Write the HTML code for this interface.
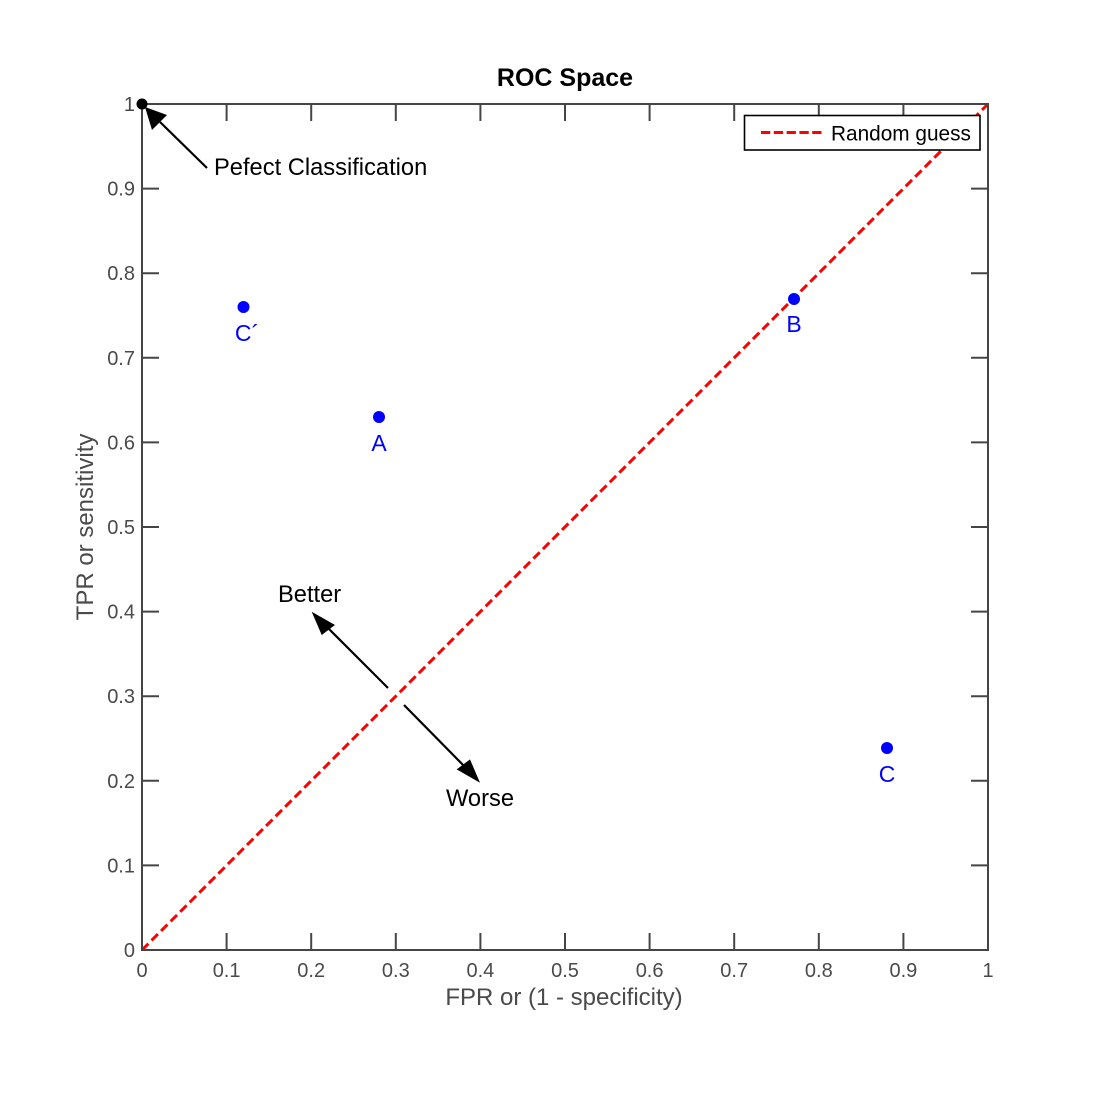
<!DOCTYPE html>
<html>
<head>
<meta charset="utf-8">
<style>
html,body{margin:0;padding:0;background:#fff;}
svg{display:block;}
text{font-family:"Liberation Sans",Arial,sans-serif;}
</style>
</head>
<body>
<svg width="1093" height="1094" viewBox="0 0 1093 1094" xmlns="http://www.w3.org/2000/svg">
<rect x="0" y="0" width="1093" height="1094" fill="#fff"/>

<!-- Random guess line -->
<line x1="142" y1="950" x2="988" y2="104" stroke="#ff0000" stroke-width="3" stroke-dasharray="9 4.5"/>

<!-- axes box -->
<rect x="142" y="104" width="846" height="846" fill="none" stroke="#454545" stroke-width="2"/>

<!-- ticks -->
<g stroke="#454545" stroke-width="2">
  <line x1="226.6" y1="950" x2="226.6" y2="933"/><line x1="226.6" y1="104" x2="226.6" y2="121"/>
  <line x1="311.2" y1="950" x2="311.2" y2="933"/><line x1="311.2" y1="104" x2="311.2" y2="121"/>
  <line x1="395.8" y1="950" x2="395.8" y2="933"/><line x1="395.8" y1="104" x2="395.8" y2="121"/>
  <line x1="480.4" y1="950" x2="480.4" y2="933"/><line x1="480.4" y1="104" x2="480.4" y2="121"/>
  <line x1="565" y1="950" x2="565" y2="933"/><line x1="565" y1="104" x2="565" y2="121"/>
  <line x1="649.6" y1="950" x2="649.6" y2="933"/><line x1="649.6" y1="104" x2="649.6" y2="121"/>
  <line x1="734.2" y1="950" x2="734.2" y2="933"/><line x1="734.2" y1="104" x2="734.2" y2="121"/>
  <line x1="818.8" y1="950" x2="818.8" y2="933"/><line x1="818.8" y1="104" x2="818.8" y2="121"/>
  <line x1="903.4" y1="950" x2="903.4" y2="933"/><line x1="903.4" y1="104" x2="903.4" y2="121"/>
  <line x1="142" y1="865.4" x2="159" y2="865.4"/><line x1="988" y1="865.4" x2="971" y2="865.4"/>
  <line x1="142" y1="780.8" x2="159" y2="780.8"/><line x1="988" y1="780.8" x2="971" y2="780.8"/>
  <line x1="142" y1="696.2" x2="159" y2="696.2"/><line x1="988" y1="696.2" x2="971" y2="696.2"/>
  <line x1="142" y1="611.6" x2="159" y2="611.6"/><line x1="988" y1="611.6" x2="971" y2="611.6"/>
  <line x1="142" y1="527" x2="159" y2="527"/><line x1="988" y1="527" x2="971" y2="527"/>
  <line x1="142" y1="442.4" x2="159" y2="442.4"/><line x1="988" y1="442.4" x2="971" y2="442.4"/>
  <line x1="142" y1="357.8" x2="159" y2="357.8"/><line x1="988" y1="357.8" x2="971" y2="357.8"/>
  <line x1="142" y1="273.2" x2="159" y2="273.2"/><line x1="988" y1="273.2" x2="971" y2="273.2"/>
  <line x1="142" y1="188.6" x2="159" y2="188.6"/><line x1="988" y1="188.6" x2="971" y2="188.6"/>
</g>

<!-- x tick labels -->
<g font-size="20" fill="#4a4a4a" text-anchor="middle">
  <text x="142" y="977">0</text>
  <text x="226.6" y="977">0.1</text>
  <text x="311.2" y="977">0.2</text>
  <text x="395.8" y="977">0.3</text>
  <text x="480.4" y="977">0.4</text>
  <text x="565" y="977">0.5</text>
  <text x="649.6" y="977">0.6</text>
  <text x="734.2" y="977">0.7</text>
  <text x="818.8" y="977">0.8</text>
  <text x="903.4" y="977">0.9</text>
  <text x="988" y="977">1</text>
</g>
<!-- y tick labels -->
<g font-size="20" fill="#4a4a4a" text-anchor="end">
  <text x="135" y="957">0</text>
  <text x="135" y="872.4">0.1</text>
  <text x="135" y="787.8">0.2</text>
  <text x="135" y="703.2">0.3</text>
  <text x="135" y="618.6">0.4</text>
  <text x="135" y="534">0.5</text>
  <text x="135" y="449.4">0.6</text>
  <text x="135" y="364.8">0.7</text>
  <text x="135" y="280.2">0.8</text>
  <text x="135" y="195.6">0.9</text>
  <text x="135" y="111">1</text>
</g>

<!-- axis labels -->
<text x="564" y="1005" font-size="24" fill="#4a4a4a" text-anchor="middle">FPR or (1 - specificity)</text>
<text x="93" y="527" font-size="24" fill="#4a4a4a" text-anchor="middle" transform="rotate(-90 93 527)">TPR or sensitivity</text>

<!-- title -->
<text x="565" y="86" font-size="25" font-weight="bold" fill="#000" text-anchor="middle">ROC Space</text>

<!-- data points -->
<g fill="#0000ff">
  <circle cx="243.5" cy="307" r="6"/>
  <circle cx="379" cy="417" r="6"/>
  <circle cx="794" cy="299" r="6"/>
  <circle cx="887" cy="748" r="6"/>
</g>
<g font-size="23" fill="#0000ff" text-anchor="middle">
  <text x="247" y="341">C´</text>
  <text x="379" y="451">A</text>
  <text x="794" y="332">B</text>
  <text x="887" y="782">C</text>
</g>

<!-- perfect classification point -->
<circle cx="142" cy="104" r="5.5" fill="#000"/>

<!-- arrows -->
<g stroke="#000" stroke-width="2.2">
  <line x1="207" y1="168" x2="160" y2="122"/>
  <line x1="388" y1="688" x2="325" y2="625"/>
  <line x1="404" y1="705" x2="467" y2="769"/>
</g>
<g fill="#000">
  <polygon points="145,107 152,130 167,115"/>
  <polygon points="311.7,611.7 321.7,635 335,625"/>
  <polygon points="480,782.7 470,759.4 456.7,769.4"/>
</g>

<!-- annotations -->
<g font-size="23.7" fill="#000">
  <text x="214" y="175">Pefect Classification</text>
  <text x="278" y="602">Better</text>
  <text x="446" y="806">Worse</text>
</g>

<!-- legend -->
<rect x="744.5" y="115.5" width="235.5" height="34.5" fill="#fff" stroke="#000" stroke-width="1.6"/>
<line x1="761" y1="132.5" x2="822" y2="132.5" stroke="#ff0000" stroke-width="3" stroke-dasharray="9.3 3.5"/>
<text x="831" y="140.5" font-size="20.8" fill="#000">Random guess</text>
</svg>
</body>
</html>
